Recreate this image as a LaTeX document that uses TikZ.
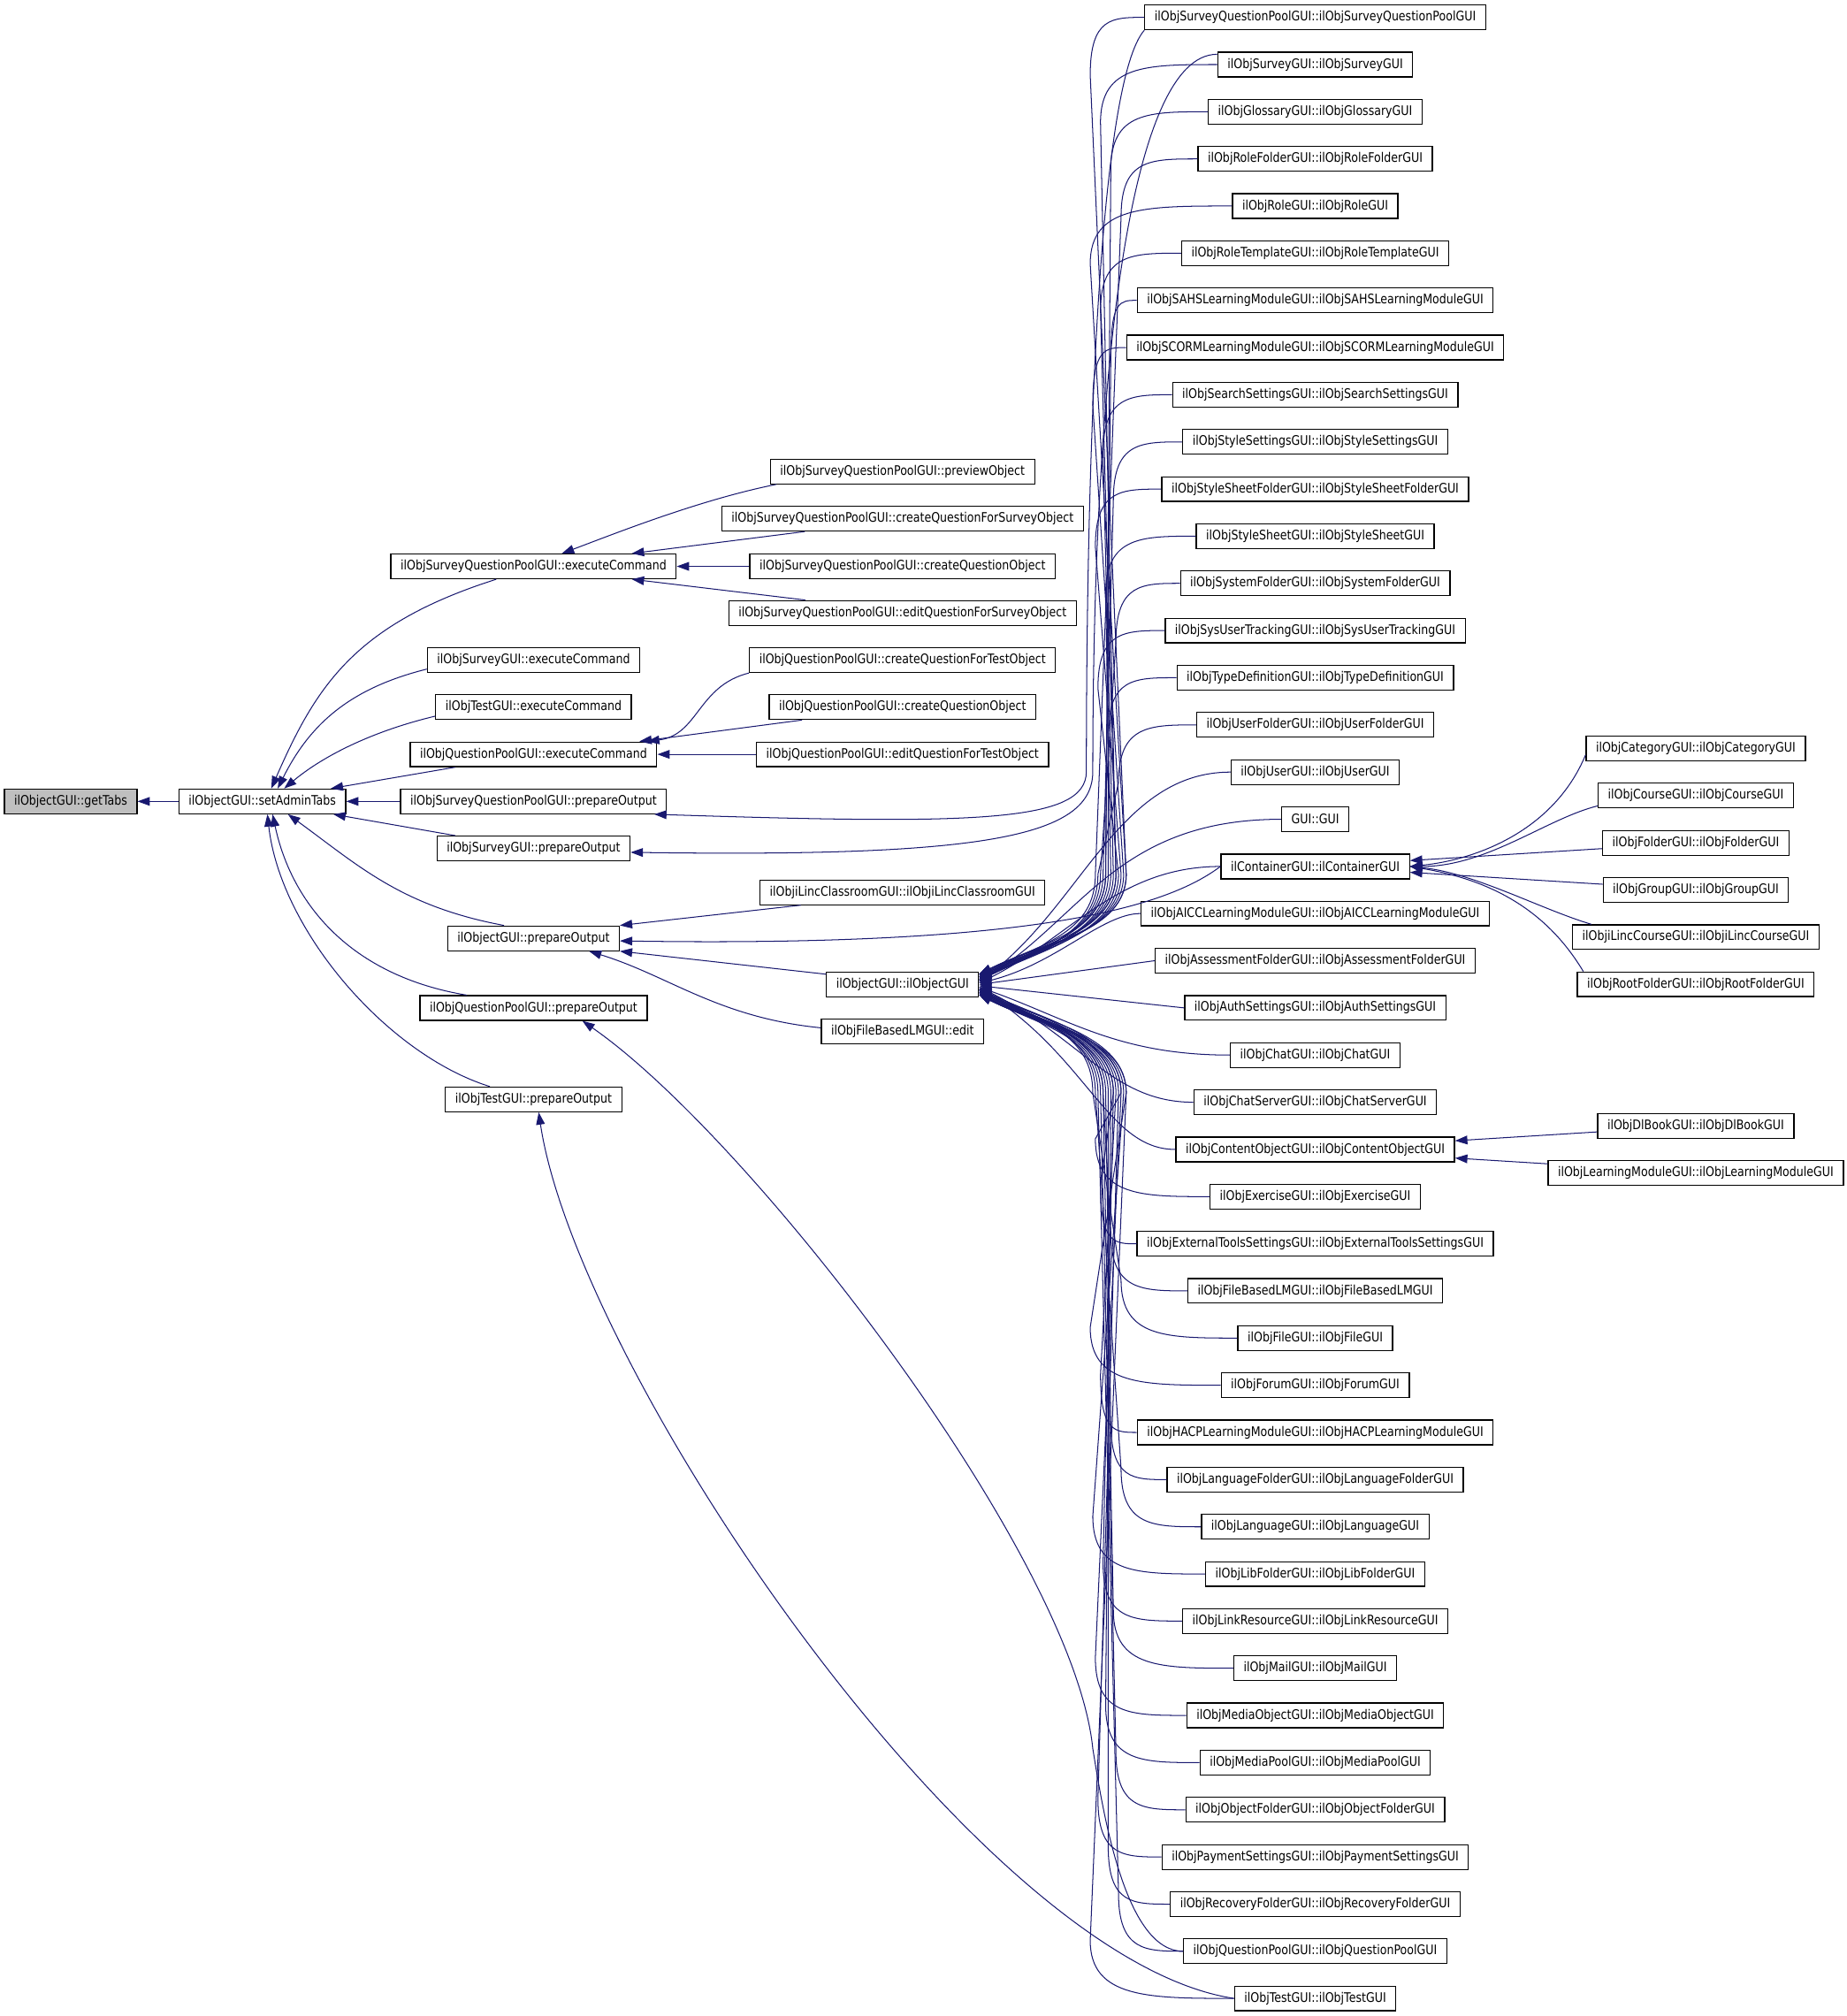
\documentclass[tikz,border=0pt]{standalone}
\usepackage{fontspec}
\setmainfont{DejaVu Sans}[FakeStretch=0.85]
\usetikzlibrary{arrows.meta,calc}
\definecolor{edgeblue}{HTML}{191970}
\definecolor{focusgray}{HTML}{BFBFBF}

\begin{document}
\begin{tikzpicture}[
    x=0.025cm,
    y=-0.025cm,
    >={Triangle[length=6.8pt,width=4.8pt]},
    func/.style={draw=black, line width=0.6pt, fill=white, minimum height=0.48cm,
        inner xsep=0.19cm, inner ysep=0pt, font=\fontsize{7.25}{8}\selectfont},
    callarrow/.style={->, edgeblue, line width=0.5pt}
]

\path[use as bounding box, fill=white] (0,0) rectangle (1436,1568);

% Function of interest
\node[func, fill=focusgray] (getTabs) at (55, 623.3) {ilObjectGUI::getTabs};
\node[func] (setAdminTabs) at (204, 623.3) {ilObjectGUI::setAdminTabs};

% Callers of setAdminTabs
\node[func] (sqpExec) at (415, 440.5) {ilObjSurveyQuestionPoolGUI::executeCommand};
\node[func] (surveyExec) at (415, 513.4) {ilObjSurveyGUI::executeCommand};
\node[func] (testExec) at (415, 550) {ilObjTestGUI::executeCommand};
\node[func] (qpExec) at (415, 586.7) {ilObjQuestionPoolGUI::executeCommand};
\node[func] (sqpPrep) at (415, 623.3) {ilObjSurveyQuestionPoolGUI::prepareOutput};
\node[func] (surveyPrep) at (415, 659.9) {ilObjSurveyGUI::prepareOutput};
\node[func] (objPrep) at (415, 729.8) {ilObjectGUI::prepareOutput};
\node[func] (qpPrep) at (415, 784) {ilObjQuestionPoolGUI::prepareOutput};
\node[func] (testPrep) at (415, 855.1) {ilObjTestGUI::prepareOutput};

% Third column
\node[func] (sqpPreview) at (702, 366.7) {ilObjSurveyQuestionPoolGUI::previewObject};
\node[func] (sqpCreateSurvey) at (702, 403.4) {ilObjSurveyQuestionPoolGUI::createQuestionForSurveyObject};
\node[func] (sqpCreate) at (702, 440.5) {ilObjSurveyQuestionPoolGUI::createQuestionObject};
\node[func] (sqpEditSurvey) at (702, 476.7) {ilObjSurveyQuestionPoolGUI::editQuestionForSurveyObject};
\node[func] (qpCreateTest) at (702, 513.4) {ilObjQuestionPoolGUI::createQuestionForTestObject};
\node[func] (qpCreate) at (702, 550) {ilObjQuestionPoolGUI::createQuestionObject};
\node[func] (qpEditTest) at (702, 586.7) {ilObjQuestionPoolGUI::editQuestionForTestObject};
\node[func] (ilincClassroom) at (702, 694) {ilObjiLincClassroomGUI::ilObjiLincClassroomGUI};
\node[func] (objCtor) at (702, 765.7) {ilObjectGUI::ilObjectGUI};
\node[func] (fblmEdit) at (702, 802.4) {ilObjFileBasedLMGUI::edit};

% Constructors
\node[func] (sqpCtor) at (1023, 13.5) {ilObjSurveyQuestionPoolGUI::ilObjSurveyQuestionPoolGUI};
\node[func] (surveyCtor) at (1023, 50.2) {ilObjSurveyGUI::ilObjSurveyGUI};
\node[func] (glossary) at (1023, 86.9) {ilObjGlossaryGUI::ilObjGlossaryGUI};
\node[func] (roleFolder) at (1023, 123.6) {ilObjRoleFolderGUI::ilObjRoleFolderGUI};
\node[func] (role) at (1023, 160.2) {ilObjRoleGUI::ilObjRoleGUI};
\node[func] (roleTemplate) at (1023, 196.9) {ilObjRoleTemplateGUI::ilObjRoleTemplateGUI};
\node[func] (sahs) at (1023, 233.6) {ilObjSAHSLearningModuleGUI::ilObjSAHSLearningModuleGUI};
\node[func] (scorm) at (1023, 270.3) {ilObjSCORMLearningModuleGUI::ilObjSCORMLearningModuleGUI};
\node[func] (searchSettings) at (1023, 307) {ilObjSearchSettingsGUI::ilObjSearchSettingsGUI};
\node[func] (styleSettings) at (1023, 343.7) {ilObjStyleSettingsGUI::ilObjStyleSettingsGUI};
\node[func] (styleSheetFolder) at (1023, 380.4) {ilObjStyleSheetFolderGUI::ilObjStyleSheetFolderGUI};
\node[func] (styleSheet) at (1023, 417) {ilObjStyleSheetGUI::ilObjStyleSheetGUI};
\node[func] (systemFolder) at (1023, 453.7) {ilObjSystemFolderGUI::ilObjSystemFolderGUI};
\node[func] (sysUserTracking) at (1023, 490.4) {ilObjSysUserTrackingGUI::ilObjSysUserTrackingGUI};
\node[func] (typeDefinition) at (1023, 527.1) {ilObjTypeDefinitionGUI::ilObjTypeDefinitionGUI};
\node[func] (userFolder) at (1023, 563.8) {ilObjUserFolderGUI::ilObjUserFolderGUI};
\node[func] (user) at (1023, 600.5) {ilObjUserGUI::ilObjUserGUI};
\node[func] (gui) at (1023, 637.2) {GUI::GUI};
\node[func] (container) at (1023, 673.9) {ilContainerGUI::ilContainerGUI};
\node[func] (aicc) at (1023, 710.5) {ilObjAICCLearningModuleGUI::ilObjAICCLearningModuleGUI};
\node[func] (assessmentFolder) at (1023, 747.2) {ilObjAssessmentFolderGUI::ilObjAssessmentFolderGUI};
\node[func] (authSettings) at (1023, 783.9) {ilObjAuthSettingsGUI::ilObjAuthSettingsGUI};
\node[func] (chat) at (1023, 820.6) {ilObjChatGUI::ilObjChatGUI};
\node[func] (chatServer) at (1023, 857.3) {ilObjChatServerGUI::ilObjChatServerGUI};
\node[func] (contentObject) at (1023, 894) {ilObjContentObjectGUI::ilObjContentObjectGUI};
\node[func] (exercise) at (1023, 930.7) {ilObjExerciseGUI::ilObjExerciseGUI};
\node[func] (externalTools) at (1023, 967.4) {ilObjExternalToolsSettingsGUI::ilObjExternalToolsSettingsGUI};
\node[func] (fileBasedLM) at (1023, 1004) {ilObjFileBasedLMGUI::ilObjFileBasedLMGUI};
\node[func] (file) at (1023, 1040.7) {ilObjFileGUI::ilObjFileGUI};
\node[func] (forum) at (1023, 1077.4) {ilObjForumGUI::ilObjForumGUI};
\node[func] (hacp) at (1023, 1114.1) {ilObjHACPLearningModuleGUI::ilObjHACPLearningModuleGUI};
\node[func] (languageFolder) at (1023, 1150.8) {ilObjLanguageFolderGUI::ilObjLanguageFolderGUI};
\node[func] (language) at (1023, 1187.5) {ilObjLanguageGUI::ilObjLanguageGUI};
\node[func] (libFolder) at (1023, 1224.2) {ilObjLibFolderGUI::ilObjLibFolderGUI};
\node[func] (linkResource) at (1023, 1260.8) {ilObjLinkResourceGUI::ilObjLinkResourceGUI};
\node[func] (mail) at (1023, 1297.5) {ilObjMailGUI::ilObjMailGUI};
\node[func] (mediaObject) at (1023, 1334.2) {ilObjMediaObjectGUI::ilObjMediaObjectGUI};
\node[func] (mediaPool) at (1023, 1370.9) {ilObjMediaPoolGUI::ilObjMediaPoolGUI};
\node[func] (objectFolder) at (1023, 1407.6) {ilObjObjectFolderGUI::ilObjObjectFolderGUI};
\node[func] (paymentSettings) at (1023, 1444.3) {ilObjPaymentSettingsGUI::ilObjPaymentSettingsGUI};
\node[func] (recoveryFolder) at (1023, 1481) {ilObjRecoveryFolderGUI::ilObjRecoveryFolderGUI};
\node[func] (qpCtor) at (1023, 1517.6) {ilObjQuestionPoolGUI::ilObjQuestionPoolGUI};
\node[func] (testCtor) at (1023, 1554.3) {ilObjTestGUI::ilObjTestGUI};

% Subclass constructors
\node[func] (category) at (1319, 582.1) {ilObjCategoryGUI::ilObjCategoryGUI};
\node[func] (course) at (1319, 618.8) {ilObjCourseGUI::ilObjCourseGUI};
\node[func] (folder) at (1319, 655.5) {ilObjFolderGUI::ilObjFolderGUI};
\node[func] (group) at (1319, 692.2) {ilObjGroupGUI::ilObjGroupGUI};
\node[func] (ilincCourse) at (1319, 728.9) {ilObjiLincCourseGUI::ilObjiLincCourseGUI};
\node[func] (rootFolder) at (1319, 765.5) {ilObjRootFolderGUI::ilObjRootFolderGUI};
\node[func] (dlBook) at (1319, 875.6) {ilObjDlBookGUI::ilObjDlBookGUI};
\node[func] (learningModule) at (1319, 912.3) {ilObjLearningModuleGUI::ilObjLearningModuleGUI};

% Calls into getTabs and setAdminTabs
\draw[callarrow] (setAdminTabs) -- (getTabs);
\draw[callarrow] ($(sqpExec.south)+(-29,0)$) .. controls +(-110,35) and +(35,-80) .. ($(setAdminTabs.north)+(7,0)$);
\draw[callarrow] ($(surveyExec.west)+(0,7)$) .. controls +(-60,15) and +(25,-50) .. ($(setAdminTabs.north)+(12,0)$);
\draw[callarrow] ($(testExec.west)+(0,7)$) .. controls +(-50,12) and +(30,-25) .. ($(setAdminTabs.north)+(17,0)$);
\draw[callarrow] ($(qpExec.south)+(-61,0)$) -- ($(setAdminTabs.north east)+(-12,0)$);
\draw[callarrow] (sqpPrep) -- (setAdminTabs);
\draw[callarrow] ($(surveyPrep.north)+(-61,0)$) -- ($(setAdminTabs.south east)+(-10,0)$);
\draw[callarrow] ($(objPrep.north)+(-23,0)$) .. controls +(-80,-15) and +(55,40) .. ($(setAdminTabs.south)+(20,0)$);
\draw[callarrow] ($(qpPrep.north)+(-52,0)$) .. controls +(-90,-15) and +(15,70) .. ($(setAdminTabs.south)+(8,0)$);
\draw[callarrow] ($(testPrep.north)+(-34,0)$) .. controls +(-80,-25) and +(10,90) .. ($(setAdminTabs.south)+(4,0)$);

% Calls into executeCommand
\draw[callarrow] ($(sqpPreview.south west)+(5,0)$) .. controls +(-60,12) and +(40,-15) .. ($(sqpExec.north)+(22,0)$);
\draw[callarrow] ($(sqpCreateSurvey.south west)+(65,0)$) -- ($(sqpExec.north east)+(-35,0)$);
\draw[callarrow] (sqpCreate) -- (sqpExec);
\draw[callarrow] ($(sqpEditSurvey.north west)+(60,0)$) -- ($(sqpExec.south east)+(-35,0)$);
\draw[callarrow] (qpCreateTest.south west) .. controls +(-40,10) and +(40,-5) .. ($(qpExec.north east)+(-8,0)$);
\draw[callarrow] ($(qpCreate.south west)+(26,0)$) -- ($(qpExec.north east)+(-14,0)$);
\draw[callarrow] (qpEditTest) -- (qpExec);

% Calls into prepareOutput
\draw[callarrow] ($(ilincClassroom.south west)+(32,0)$) -- (objPrep.north east);
\draw[callarrow] ($(objCtor.west)+(0,-8)$) -- (objPrep.south east);
\draw[callarrow] ($(fblmEdit.west)+(0,-3)$) .. controls +(-80,-8) and +(62,19) .. ($(objPrep.south east)+(-24,0)$);
\draw[callarrow] (container.west) .. controls +(-40,30) and +(330,5) .. ($(objPrep.east)+(0,2)$);
\draw[callarrow] (sqpCtor.south west) .. controls +(-35,40) and +(0,-250) .. (845,600) .. controls +(0,40) and +(250,8) .. ($(sqpPrep.south east)+(-10,0)$);
\draw[callarrow] ($(surveyCtor.west)+(0,-8)$) .. controls +(-70,0) and +(0,-300) .. (850,600) .. controls +(0,50) and +(280,4) .. ($(surveyPrep.east)+(0,3)$);
\draw[callarrow] (qpCtor.west) .. controls +(-45,0) and +(8,50) .. (850,1360) .. controls +(-15,-150) and +(130,90) .. ($(qpPrep.south)+(38,0)$);
\draw[callarrow] (testCtor.west) .. controls +(-200,-30) and +(30,200) .. ($(testPrep.south)+(4,0)$);

% Calls into the ilObjectGUI constructor, upper half
\draw[callarrow] (sqpCtor.west) .. controls +(-25,0) and +(0,-45) .. (848,58.5) -- (876,680) .. controls +(0,45) and +(50,-25) .. ($(objCtor.east)+(0,-8)$);
\draw[callarrow] (surveyCtor.west) .. controls +(-55,0) and +(0,-45) .. (856,95.2) -- (868,680) .. controls +(0,45) and +(50,-25) .. ($(objCtor.east)+(0,-8)$);
\draw[callarrow] (glossary.west) .. controls +(-46,0) and +(0,-45) .. (864,131.9) -- (860,680) .. controls +(0,45) and +(50,-25) .. ($(objCtor.east)+(0,-8)$);
\draw[callarrow] (roleFolder.west) .. controls +(-37,0) and +(0,-45) .. (872,168.6) -- (852,680) .. controls +(0,45) and +(50,-25) .. ($(objCtor.east)+(0,-7)$);
\draw[callarrow] (role.west) .. controls +(-68,0) and +(0,-45) .. (848,205.2) -- (876,680) .. controls +(0,45) and +(50,-25) .. ($(objCtor.east)+(0,-7)$);
\draw[callarrow] (roleTemplate.west) .. controls +(-38,0) and +(0,-45) .. (856,241.9) -- (868,680) .. controls +(0,45) and +(50,-25) .. ($(objCtor.east)+(0,-6)$);
\draw[callarrow] (sahs.west) .. controls +(-13,0) and +(0,-45) .. (864,278.6) -- (860,680) .. controls +(0,45) and +(50,-25) .. ($(objCtor.east)+(0,-6)$);
\draw[callarrow] (scorm.west) .. controls +(-16,0) and +(0,-45) .. (850,315.3) -- (874,680) .. controls +(0,45) and +(50,-25) .. ($(objCtor.east)+(0,-6)$);
\draw[callarrow] (searchSettings.west) .. controls +(-31,0) and +(0,-45) .. (858,352) -- (866,680) .. controls +(0,45) and +(50,-25) .. ($(objCtor.east)+(0,-5)$);
\draw[callarrow] (styleSettings.west) .. controls +(-32,0) and +(0,-45) .. (866,388.7) -- (858,680) .. controls +(0,45) and +(50,-25) .. ($(objCtor.east)+(0,-5)$);
\draw[callarrow] (styleSheetFolder.west) .. controls +(-31,0) and +(0,-45) .. (852,425.4) -- (872,680) .. controls +(0,45) and +(50,-25) .. ($(objCtor.east)+(0,-4)$);
\draw[callarrow] (styleSheet.west) .. controls +(-42,0) and +(0,-45) .. (860,462) -- (864,680) .. controls +(0,45) and +(50,-25) .. ($(objCtor.east)+(0,-4)$);
\draw[callarrow] (systemFolder.west) .. controls +(-29,0) and +(0,-45) .. (868,498.7) -- (856,680) .. controls +(0,45) and +(50,-25) .. ($(objCtor.east)+(0,-4)$);
\draw[callarrow] (sysUserTracking.west) .. controls +(-31,0) and +(0,-45) .. (854,535.4) -- (870,680) .. controls +(0,45) and +(50,-25) .. ($(objCtor.east)+(0,-3)$);
\draw[callarrow] (typeDefinition.west) .. controls +(-33,0) and +(0,-45) .. (862,572.1) -- (862,680) .. controls +(0,45) and +(50,-25) .. ($(objCtor.east)+(0,-3)$);
\draw[callarrow] (userFolder.west) .. controls +(-36,0) and +(0,-45) .. (870,608.8) -- (854,680) .. controls +(0,45) and +(50,-25) .. ($(objCtor.east)+(0,-3)$);

% Calls into the ilObjectGUI constructor, close by
\draw[callarrow] (user.west) .. controls +(-87,0) and +(80,-60) .. ($(objCtor.east)+(0,-2)$);
\draw[callarrow] (gui.west) .. controls +(-127,0) and +(80,-50) .. ($(objCtor.east)+(0,-2)$);
\draw[callarrow] (container.west) .. controls +(-80,0) and +(70,-35) .. ($(objCtor.east)+(0,-1)$);
\draw[callarrow] (aicc.west) .. controls +(-30,0) and +(60,-15) .. ($(objCtor.east)+(0,-1)$);
\draw[callarrow] (assessmentFolder.west) -- (objCtor.east);
\draw[callarrow] (authSettings.west) -- ($(objCtor.east)+(0,1)$);
\draw[callarrow] (chat.west) .. controls +(-87,0) and +(70,25) .. ($(objCtor.east)+(0,2)$);
\draw[callarrow] (chatServer.west) .. controls +(-63,0) and +(80,40) .. ($(objCtor.east)+(0,2)$);
\draw[callarrow] (contentObject.west) .. controls +(-52,0) and +(85,55) .. ($(objCtor.east)+(0,3)$);

% Calls into the ilObjectGUI constructor, lower half
\draw[callarrow] (exercise.west) .. controls +(-53,0) and +(0,45) .. (852,885.7) -- (872,850) .. controls +(0,-45) and +(50,25) .. ($(objCtor.east)+(0,3)$);
\draw[callarrow] (externalTools.west) .. controls +(-17,0) and +(0,45) .. (856,922.4) -- (866,850) .. controls +(0,-45) and +(50,25) .. ($(objCtor.east)+(0,3)$);
\draw[callarrow] (fileBasedLM.west) .. controls +(-35,0) and +(0,45) .. (864,959) -- (858,850) .. controls +(0,-45) and +(50,25) .. ($(objCtor.east)+(0,4)$);
\draw[callarrow] (file.west) .. controls +(-55,0) and +(0,45) .. (872,995.7) -- (850,850) .. controls +(0,-45) and +(50,25) .. ($(objCtor.east)+(0,4)$);
\draw[callarrow] (forum.west) .. controls +(-61,0) and +(0,45) .. (848,1032.4) -- (876,850) .. controls +(0,-45) and +(50,25) .. ($(objCtor.east)+(0,4)$);
\draw[callarrow] (hacp.west) .. controls +(-17,0) and +(0,45) .. (856,1069.1) -- (868,850) .. controls +(0,-45) and +(50,25) .. ($(objCtor.east)+(0,5)$);
\draw[callarrow] (languageFolder.west) .. controls +(-26,0) and +(0,45) .. (864,1105.8) -- (860,850) .. controls +(0,-45) and +(50,25) .. ($(objCtor.east)+(0,5)$);
\draw[callarrow] (language.west) .. controls +(-37,0) and +(0,45) .. (872,1142.5) -- (852,850) .. controls +(0,-45) and +(50,25) .. ($(objCtor.east)+(0,5)$);
\draw[callarrow] (libFolder.west) .. controls +(-53,0) and +(0,45) .. (850,1179.2) -- (874,850) .. controls +(0,-45) and +(50,25) .. ($(objCtor.east)+(0,6)$);
\draw[callarrow] (linkResource.west) .. controls +(-38,0) and +(0,45) .. (858,1215.8) -- (866,850) .. controls +(0,-45) and +(50,25) .. ($(objCtor.east)+(0,6)$);
\draw[callarrow] (mail.west) .. controls +(-56,0) and +(0,45) .. (866,1252.5) -- (858,850) .. controls +(0,-45) and +(50,25) .. ($(objCtor.east)+(0,6)$);
\draw[callarrow] (mediaObject.west) .. controls +(-43,0) and +(0,45) .. (852,1289.2) -- (872,850) .. controls +(0,-45) and +(50,25) .. ($(objCtor.east)+(0,7)$);
\draw[callarrow] (mediaPool.west) .. controls +(-44,0) and +(0,45) .. (860,1325.9) -- (864,850) .. controls +(0,-45) and +(50,25) .. ($(objCtor.east)+(0,7)$);
\draw[callarrow] (objectFolder.west) .. controls +(-32,0) and +(0,45) .. (868,1362.6) -- (856,850) .. controls +(0,-45) and +(50,25) .. ($(objCtor.east)+(0,7)$);
\draw[callarrow] (paymentSettings.west) .. controls +(-29,0) and +(0,45) .. (854,1399.3) -- (870,850) .. controls +(0,-45) and +(50,25) .. ($(objCtor.east)+(0,8)$);
\draw[callarrow] (recoveryFolder.west) .. controls +(-29,0) and +(0,45) .. (862,1436) -- (862,850) .. controls +(0,-45) and +(50,25) .. ($(objCtor.east)+(0,8)$);
\draw[callarrow] (qpCtor.west) .. controls +(-29,0) and +(0,45) .. (870,1472.6) -- (854,850) .. controls +(0,-45) and +(50,25) .. ($(objCtor.east)+(0,8)$);
\draw[callarrow] (testCtor.west) .. controls +(-66,0) and +(0,45) .. (848,1509.3) -- (876,850) .. controls +(0,-45) and +(50,25) .. ($(objCtor.east)+(0,8)$);

% Calls into ilContainerGUI and ilObjContentObjectGUI
\draw[callarrow] ($(category.west)+(0,5)$) .. controls +(-25,60) and +(50,-5) .. (container.east);
\draw[callarrow] ($(course.west)+(0,8)$) .. controls +(-40,10) and +(60,0) .. (container.east);
\draw[callarrow] (folder) -- (container);
\draw[callarrow] (group) -- (container);
\draw[callarrow] ($(ilincCourse.north west)+(15,0)$) .. controls +(-40,-12) and +(50,5) .. (container.east);
\draw[callarrow] ($(rootFolder.north west)+(5,0)$) .. controls +(-30,-50) and +(60,10) .. (container.east);
\draw[callarrow] (dlBook) -- (contentObject);
\draw[callarrow] (learningModule) -- (contentObject);

\end{tikzpicture}
\end{document}
